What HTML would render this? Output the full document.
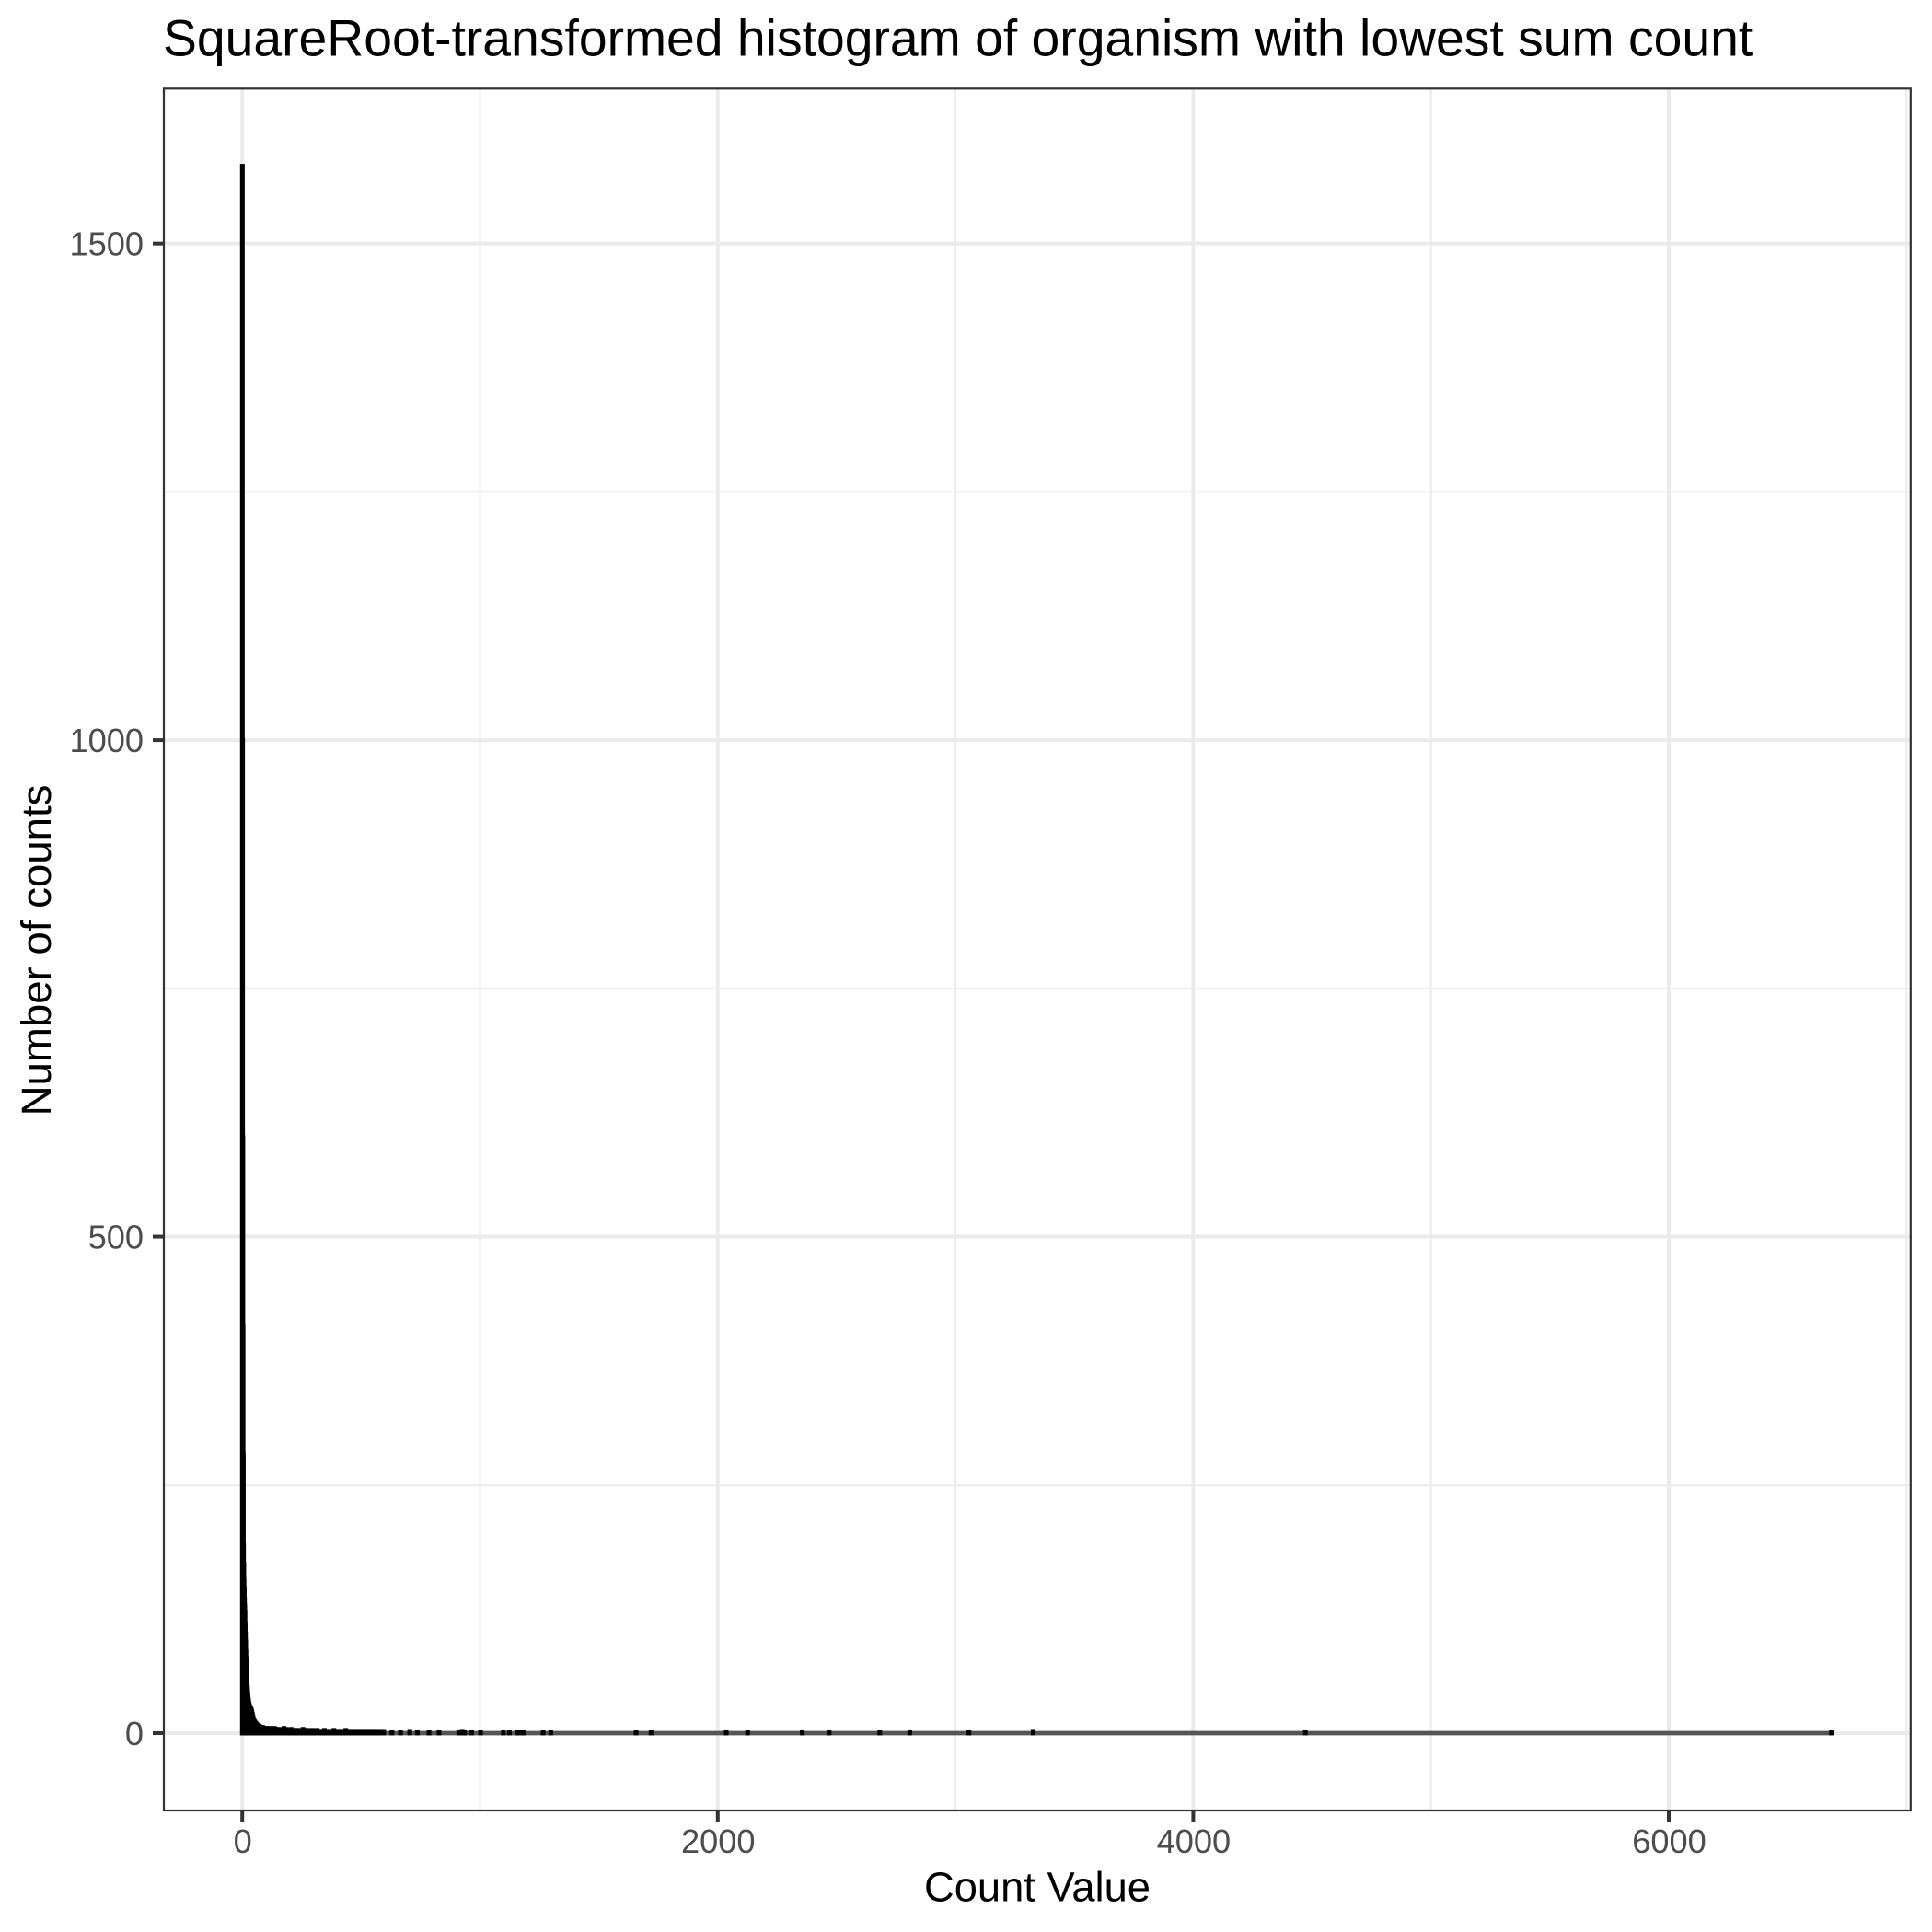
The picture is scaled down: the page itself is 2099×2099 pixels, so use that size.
<!DOCTYPE html>
<html lang="en">
<head>
<meta charset="utf-8">
<title>SquareRoot-transformed histogram</title>
<style>
html,body{margin:0;padding:0;background:#fff;}
svg{display:block;font-family:"Liberation Sans",Arial,sans-serif;}
</style>
</head>
<body>
<svg id="chart" xmlns="http://www.w3.org/2000/svg" width="2099" height="2099" viewBox="0 0 2099 2099">
  <rect x="0" y="0" width="2099" height="2099" fill="#ffffff"/>
  <g id="grid"></g>
  <g id="bars"></g>
  <rect x="178" y="96.3" width="1897.8" height="1870.7" fill="none" stroke="#333333" stroke-width="2.2"/>
  <g id="axes"></g>
  <text x="177" y="60.5" font-size="55.3" fill="#000000">SquareRoot-transformed histogram of organism with lowest sum count</text>
  <text x="1127" y="2065.5" font-size="45.3" fill="#000000" text-anchor="middle">Count Value</text>
  <text transform="translate(55,1032.5) rotate(-90)" font-size="45.6" fill="#000000" text-anchor="middle">Number of counts</text>
</svg>
<script>
const xMajorTicks = [0, 2000, 4000, 6000];
const xMinorTicks = [1000, 3000, 5000, 7000];
const yMajorTicks = [0, 500, 1000, 1500];
const yMinorTicks = [250, 750, 1250];
const countValues = [0,1,2,3,4,5,6,7,8,9,10,11,12,13,14,15,16,17,18,19,20,21,22,23,24,25,26,27,28,29,30,32,34,36,38,40,42,44,46,48,50,53,56,60,64,68,72,78,85,95,105,115,125,135,145,155,165,175,185,195,205,215,225,235,245,255,265,275,285,295,305,315,325,335,345,355,365,375,385,395,405,415,425,435,445,455,465,475,485,495,505,515,525,535,545,555,565,575,594,629,665,704,736,785,827,910,925,935,964,1002,1098,1123,1155,1170,1184,1265,1297,1656,1719,2035,2125,2355,2468,2681,2807,3056,3326,4471,6684];
const binFrequencies = [1578,1000,600,410,280,190,170,155,145,135,128,122,110,100,92,82,75,69,63,57,51,46,42,39,36,34,32,30,29,28,27,26,25,24,23,21,19,17,15,13,12,11,10,9,8,7.5,7,6,6,5,5,5,4,5,4,4,3,5,4,3,4,3,3,3,2,4,3,3,2,3,2,3,2,2,3,2,2,2,3,2,2,2,2,3,2,2,2,2,2,2,2,2,2,2,2,2,2,2,2,1,1,2,1,1,1,1,2,1,1,1,1,1,1,1,1,1,1,1,1,1,1,1,1,1,1,1,2,1,1];

const SVG_NS = 'http://www.w3.org/2000/svg';
const xZero = 263.2, xScale = 0.2583;
const yZero = 1883, yScale = 1.0789;
const panelLeft = 178, panelRight = 2076, panelTop = 96.3, panelBottom = 1967;
const xPos = function (v) { return xZero + v * xScale; };
const yPos = function (c) { return yZero - c * yScale; };

function make(tag, attrs, parent) {
  const el = document.createElementNS(SVG_NS, tag);
  Object.keys(attrs).forEach(function (k) { el.setAttribute(k, attrs[k]); });
  parent.appendChild(el);
  return el;
}

const grid = document.getElementById('grid');
const axes = document.getElementById('axes');
const bars = document.getElementById('bars');

yMinorTicks.forEach(function (t) {
  const el = make('line', {x1: panelLeft, x2: panelRight, y1: yPos(t), y2: yPos(t), stroke: '#ebebeb', 'stroke-width': 2}, grid);
  
  
});
xMinorTicks.forEach(function (t) {
  const el = make('line', {x1: xPos(t), x2: xPos(t), y1: panelTop, y2: panelBottom, stroke: '#ebebeb', 'stroke-width': 2}, grid);
  
  
});
yMajorTicks.forEach(function (t) {
  const el = make('line', {x1: panelLeft, x2: panelRight, y1: yPos(t), y2: yPos(t), stroke: '#ebebeb', 'stroke-width': 4}, grid);
  
  
});
xMajorTicks.forEach(function (t) {
  const el = make('line', {x1: xPos(t), x2: xPos(t), y1: panelTop, y2: panelBottom, stroke: '#ebebeb', 'stroke-width': 4}, grid);
  
  
});

const lastValue = countValues[countValues.length - 1];
const baseline = make('line', {x1: xPos(0), x2: xPos(lastValue), y1: yPos(0), y2: yPos(0), stroke: '#555555', 'stroke-width': 4.8}, bars);



countValues.forEach(function (v, i) {
  const h = binFrequencies[i];
  const el = make('rect', {x: xPos(v), y: yPos(h), width: xScale, height: yPos(0) - yPos(h), fill: '#000000', stroke: '#000000', 'stroke-width': 4.8}, bars);
  
  
});

xMajorTicks.forEach(function (t) {
  const tick = make('line', {x1: xPos(t), x2: xPos(t), y1: panelBottom, y2: panelBottom + 12, stroke: '#333333', 'stroke-width': 4}, axes);
  
  
  const label = make('text', {x: xPos(t) + 0.5, y: 2013, 'font-size': 36.2, fill: '#4d4d4d', 'text-anchor': 'middle'}, axes);
  label.textContent = String(t);
  
  
});
yMajorTicks.forEach(function (t) {
  const tick = make('line', {x1: panelLeft - 12, x2: panelLeft, y1: yPos(t), y2: yPos(t), stroke: '#333333', 'stroke-width': 4}, axes);
  
  
  const label = make('text', {x: 156, y: yPos(t) + 13, 'font-size': 36.2, fill: '#4d4d4d', 'text-anchor': 'end'}, axes);
  label.textContent = String(t);
  
  
});
</script>
</body>
</html>
